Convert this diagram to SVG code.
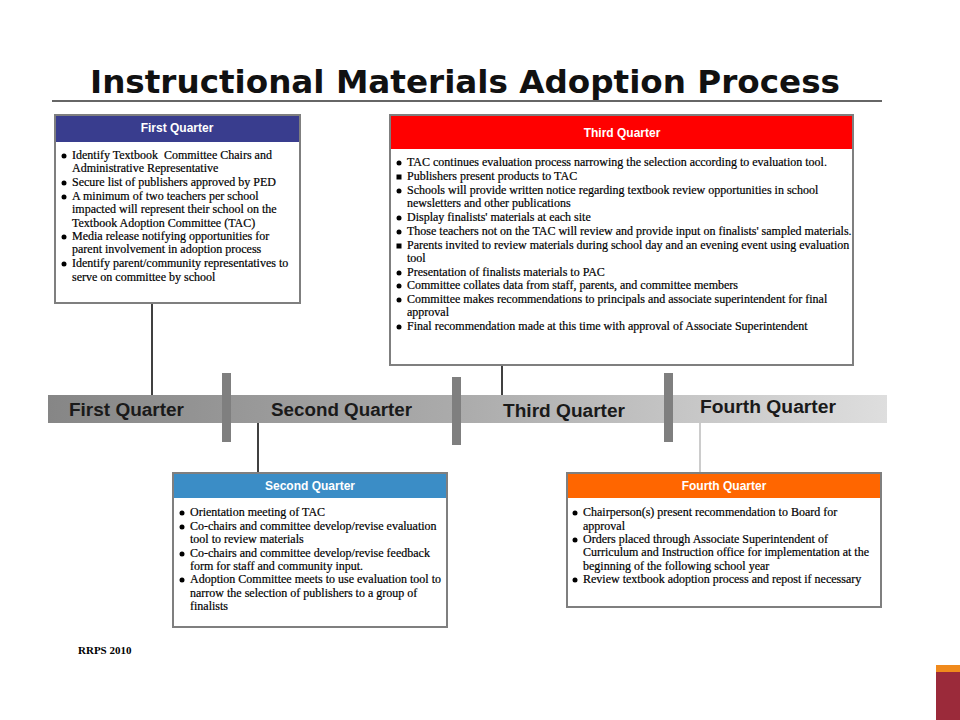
<svg xmlns="http://www.w3.org/2000/svg" width="960" height="720" viewBox="0 0 960 720">
<defs>
<linearGradient id="barGrad" x1="0" y1="0" x2="1" y2="0">
<stop offset="0" stop-color="#868686"/>
<stop offset="0.5" stop-color="#acacac"/>
<stop offset="1" stop-color="#dedede"/>
</linearGradient>
</defs>
<style>
.title{font-family:"DejaVu Sans","Liberation Sans",sans-serif;font-weight:bold;font-size:32px;fill:#111}
.box{fill:#fff;stroke:#7f7f7f;stroke-width:2}
.hdr{font-family:"Liberation Sans",Arial,sans-serif;font-weight:bold;font-size:12px;fill:#fff;text-anchor:middle}
.t{font-family:"Liberation Serif","Times New Roman",serif;font-size:12px;fill:#000;stroke:#000;stroke-width:0.2}
.bl{fill:#000}
.sep{fill:#7f7f7f}
.ql{font-family:"Liberation Sans",Arial,sans-serif;font-weight:bold;font-size:18px;fill:#1a1a1a}
.conn{stroke:#000;stroke-width:1.5;fill:none}
</style>
<rect width="960" height="720" fill="#fff"/>
<text class="title" x="90" y="93" textLength="750" lengthAdjust="spacingAndGlyphs">Instructional Materials Adoption Process</text>
<line x1="52" y1="101" x2="882" y2="101" stroke="#333" stroke-width="1.5"/>

<g id="timeline">
<rect x="48" y="395" width="839" height="28" fill="url(#barGrad)"/>
<rect class="sep" x="222" y="373" width="9" height="69"/>
<rect class="sep" x="452" y="377" width="9" height="68"/>
<rect class="sep" x="664" y="373" width="9" height="69"/>
<text class="ql" x="69" y="416" textLength="115" lengthAdjust="spacingAndGlyphs">First Quarter</text>
<text class="ql" x="271" y="416" textLength="141" lengthAdjust="spacingAndGlyphs">Second Quarter</text>
<text class="ql" x="503" y="417" textLength="122" lengthAdjust="spacingAndGlyphs">Third Quarter</text>
<text class="ql" x="700" y="413" textLength="136" lengthAdjust="spacingAndGlyphs">Fourth Quarter</text>
</g>

<g id="connectors">
<line class="conn" x1="152" y1="303" x2="152" y2="395"/>
<line class="conn" x1="502" y1="365" x2="502" y2="395"/>
<line class="conn" x1="258" y1="423" x2="258" y2="473"/>
<line x1="700" y1="423" x2="700" y2="473" stroke="#999" stroke-width="1"/>
</g>

<g id="q1">
<rect class="box" x="55" y="115" width="245" height="188"/>
<rect x="56" y="116" width="243" height="26" fill="#393d8e"/>
<text class="hdr" x="177" y="132">First Quarter</text>
<circle class="bl" cx="64" cy="156" r="2.5"/>
<text class="t" x="72" y="159" xml:space="preserve">Identify Textbook  Committee Chairs and</text>
<text class="t" x="72" y="172">Administrative Representative</text>
<circle class="bl" cx="64" cy="183" r="2.5"/>
<text class="t" x="72" y="186">Secure list of publishers approved by PED</text>
<circle class="bl" cx="64" cy="197" r="2.5"/>
<text class="t" x="72" y="200">A minimum of two teachers per school</text>
<text class="t" x="72" y="213">impacted will represent their school on the</text>
<text class="t" x="72" y="227">Textbook Adoption Committee (TAC)</text>
<circle class="bl" cx="64" cy="237" r="2.5"/>
<text class="t" x="72" y="240">Media release notifying opportunities for</text>
<text class="t" x="72" y="253">parent involvement in adoption process</text>
<circle class="bl" cx="64" cy="264" r="2.5"/>
<text class="t" x="72" y="267">Identify parent/community representatives to</text>
<text class="t" x="72" y="281">serve on committee by school</text>
</g>

<g id="q3">
<rect class="box" x="390" y="115" width="463" height="250"/>
<rect x="391" y="116" width="461" height="33" fill="#ff0000"/>
<text class="hdr" x="622" y="137">Third Quarter</text>
<circle class="bl" cx="399" cy="163" r="2.5"/>
<text class="t" x="407" y="166">TAC continues evaluation process narrowing the selection according to evaluation tool.</text>
<rect class="bl" x="396.5" y="174.5" width="5" height="5"/>
<text class="t" x="407" y="180">Publishers present products to TAC</text>
<circle class="bl" cx="399" cy="191" r="2.5"/>
<text class="t" x="407" y="194">Schools will provide written notice regarding textbook review opportunities in school</text>
<text class="t" x="407" y="207">newsletters and other publications</text>
<circle class="bl" cx="399" cy="218" r="2.5"/>
<text class="t" x="407" y="221">Display finalists' materials at each site</text>
<circle class="bl" cx="399" cy="232" r="2.5"/>
<text class="t" x="407" y="235">Those teachers not on the TAC will review and provide input on finalists' sampled materials.</text>
<rect class="bl" x="396.5" y="243.5" width="5" height="5"/>
<text class="t" x="407" y="249">Parents invited to review materials during school day and an evening event using evaluation</text>
<text class="t" x="407" y="262">tool</text>
<circle class="bl" cx="399" cy="273" r="2.5"/>
<text class="t" x="407" y="276">Presentation of finalists materials to PAC</text>
<circle class="bl" cx="399" cy="286" r="2.5"/>
<text class="t" x="407" y="289">Committee collates data from staff, parents, and committee members</text>
<circle class="bl" cx="399" cy="300" r="2.5"/>
<text class="t" x="407" y="303">Committee makes recommendations to principals and associate superintendent for final</text>
<text class="t" x="407" y="316">approval</text>
<circle class="bl" cx="399" cy="327" r="2.5"/>
<text class="t" x="407" y="330">Final recommendation made at this time with approval of Associate Superintendent</text>
</g>

<g id="q2">
<rect class="box" x="173" y="473" width="274" height="154"/>
<rect x="174" y="474" width="272" height="24" fill="#3b8dc6"/>
<text class="hdr" x="310" y="490">Second Quarter</text>
<circle class="bl" cx="182" cy="513" r="2.5"/>
<text class="t" x="190" y="516">Orientation meeting of TAC</text>
<circle class="bl" cx="182" cy="527" r="2.5"/>
<text class="t" x="190" y="530">Co-chairs and committee develop/revise evaluation</text>
<text class="t" x="190" y="543">tool to review materials</text>
<circle class="bl" cx="182" cy="554" r="2.5"/>
<text class="t" x="190" y="557">Co-chairs and committee develop/revise feedback</text>
<text class="t" x="190" y="570">form for staff and community input.</text>
<circle class="bl" cx="182" cy="580" r="2.5"/>
<text class="t" x="190" y="583">Adoption Committee meets to use evaluation tool to</text>
<text class="t" x="190" y="597">narrow the selection of publishers to a group of</text>
<text class="t" x="190" y="610">finalists</text>
</g>

<g id="q4">
<rect class="box" x="567" y="473" width="314" height="134"/>
<rect x="568" y="474" width="312" height="24" fill="#ff6600"/>
<text class="hdr" x="724" y="490">Fourth Quarter</text>
<circle class="bl" cx="575" cy="513" r="2.5"/>
<text class="t" x="583" y="516">Chairperson(s) present recommendation to Board for</text>
<text class="t" x="583" y="530">approval</text>
<circle class="bl" cx="575" cy="540" r="2.5"/>
<text class="t" x="583" y="543">Orders placed through Associate Superintendent of</text>
<text class="t" x="583" y="556">Curriculum and Instruction office for implementation at the</text>
<text class="t" x="583" y="570">beginning of the following school year</text>
<circle class="bl" cx="575" cy="580" r="2.5"/>
<text class="t" x="583" y="583">Review textbook adoption process and repost if necessary</text>
</g>

<text x="78" y="654" font-family="Liberation Serif, Times New Roman, serif" font-weight="bold" font-size="11px" fill="#000">RRPS 2010</text>
<rect x="936" y="665" width="24" height="7" fill="#f08a1c"/>
<rect x="936" y="672" width="24" height="48" fill="#9b2a3a"/>
</svg>
